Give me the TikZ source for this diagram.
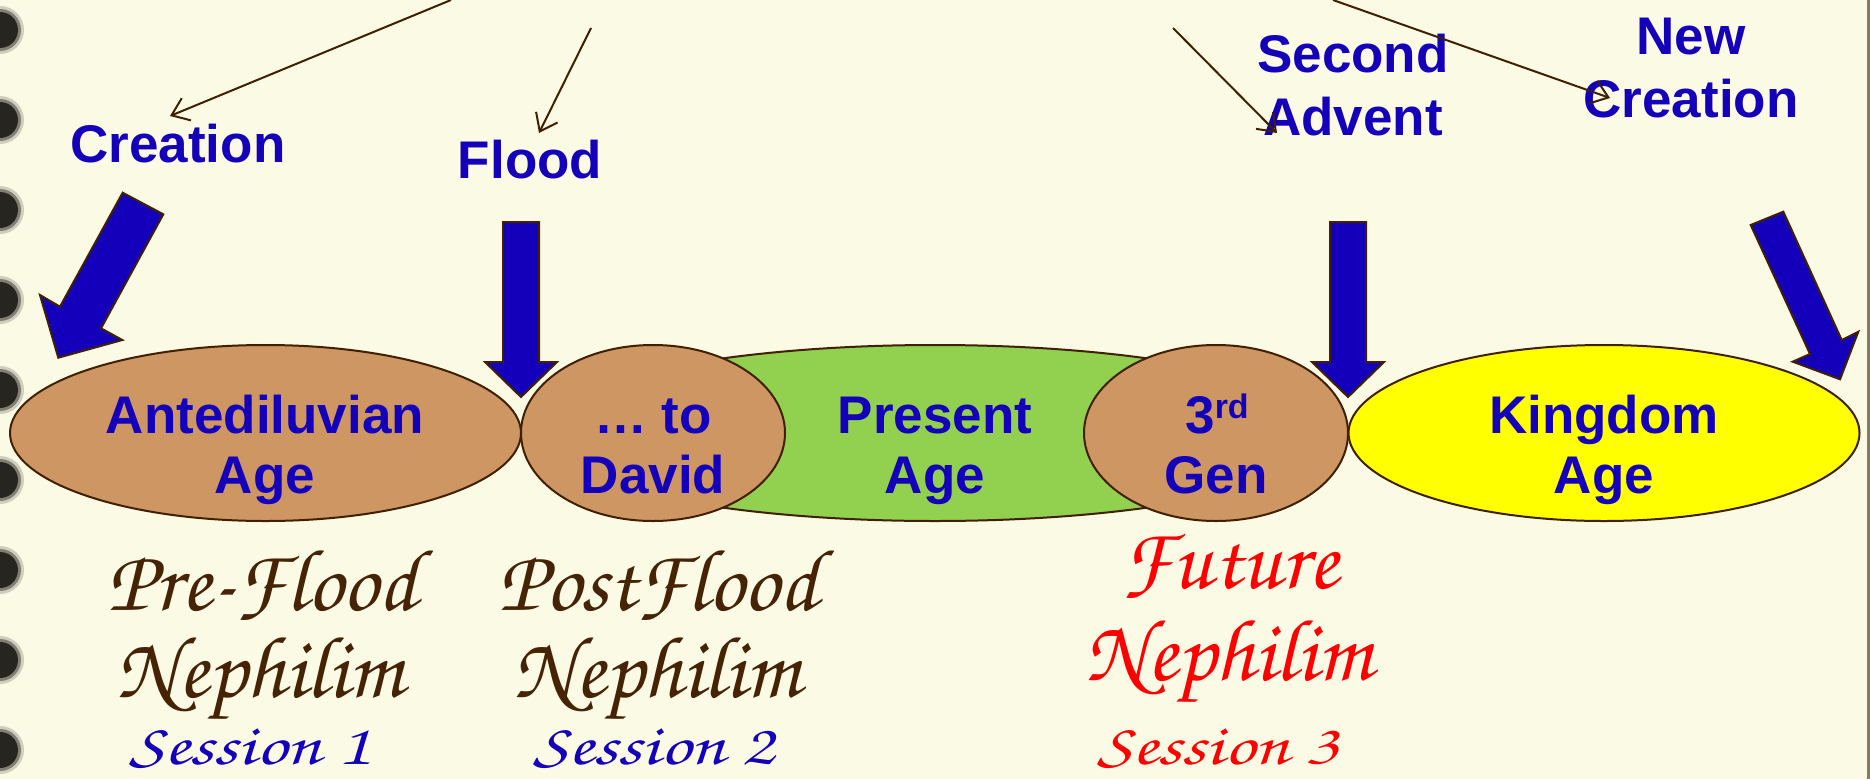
\documentclass[tikz,border=0pt]{standalone}
\usepackage[T1]{fontenc}
\usepackage{fontspec}
\newfontfamily\labelsans{Liberation Sans}
\usetikzlibrary{shapes.geometric,arrows.meta}
\definecolor{paper}{RGB}{251,250,229}
\definecolor{ink}{RGB}{20,0,186}
\definecolor{rim}{RGB}{64,32,0}
\definecolor{clay}{RGB}{205,150,98}
\definecolor{leaf}{RGB}{146,208,80}
\definecolor{sun}{RGB}{255,255,0}
\definecolor{bark}{RGB}{70,35,5}
\definecolor{alarm}{RGB}{255,0,0}
\definecolor{binding}{RGB}{140,120,95}
\definecolor{hole}{RGB}{35,33,28}
\newcommand\handfont{\usefont{T1}{pzc}{mb}{it}}
\newcommand\widehand[1]{\scalebox{1.3}[1]{#1}}
\begin{document}
\begin{tikzpicture}[x=1pt,y=-1pt,
  age/.style={ellipse, draw=rim, line width=2pt, inner sep=0pt},
  bold/.style={font=\labelsans\bfseries\fontsize{53}{63}\selectfont, text=ink, anchor=base, inner sep=0pt},
  hand/.style={font=\handfont\fontsize{88}{90}\selectfont, text=bark, anchor=base, inner sep=0pt},
  sess/.style={font=\handfont\fontsize{58}{58}\selectfont, text=ink, anchor=base, inner sep=0pt},
  pointer/.style={draw=rim, line width=2pt, -{Straight Barb[length=16pt,width=24pt]}},
  blockarrow/.style={fill=ink, draw=rim, line width=2pt, line join=miter},
]
% page
\fill[paper] (0,0) rectangle (1870,779);
\useasboundingbox (0,0) rectangle (1870,779);
\fill[binding] (1867,0) rectangle (1870,779);

% spiral binding holes
\foreach \yy in {30,120,...,750} {
  \foreach \rx/\ry/\op in {24/24/0.2, 21/21/0.45, 18/18/0.95} {
    \fill[hole, opacity=\op] (0,\yy) ellipse [x radius=\rx, y radius=\ry];
  }
}

% ages
\node[age, fill=leaf, minimum width=800pt, minimum height=176pt] (present) at (935,433) {};
\node[age, fill=clay, minimum width=511pt, minimum height=176pt] (ante) at (265.5,433) {};
\node[age, fill=clay, minimum width=264pt, minimum height=176pt] (david) at (653,433) {};
\node[age, fill=clay, minimum width=264pt, minimum height=176pt] (third) at (1216,433) {};
\node[age, fill=sun, minimum width=511pt, minimum height=176pt] (kingdom) at (1604,433) {};

\node[bold] (anteA) at (265,433) {Antediluvian};
\node[bold] (anteB) at (265,493) {Age};
\node[bold] (davidA) at (653,433) {… to};
\node[bold] (davidB) at (653,493) {David};
\node[bold] (presentA) at (935,433) {Present};
\node[bold] (presentB) at (935,493) {Age};
\node[bold] (thirdA) at (1217,433) {3\raisebox{15pt}{\fontsize{34}{34}\selectfont rd}};
\node[bold] (thirdB) at (1216,493) {Gen};
\node[bold] (kingdomA) at (1604,433) {Kingdom};
\node[bold] (kingdomB) at (1604,493) {Age};

% events
\node[bold] (creation) at (178,162) {Creation};
\node[bold] (flood) at (530,178) {Flood};
\node[bold] (adventA) at (1353,72) {Second};
\node[bold] (adventB) at (1353,135) {Advent};
\node[bold] (newA) at (1691,54) {New};
\node[bold] (newB) at (1691,117) {Creation};

% block arrows
\draw[blockarrow] (122.7,192.7) -- (60,306.7) -- (40,295) -- (58.3,357.7)
  -- (122.3,340) -- (101,328.3) -- (163.3,214.3) -- cycle;
\draw[blockarrow] (503,222) -- (503,362) -- (485,362) -- (521,397)
  -- (557,362) -- (539,362) -- (539,222) -- cycle;
\draw[blockarrow] (1330,222) -- (1330,362) -- (1312,362) -- (1348,397)
  -- (1384,362) -- (1366,362) -- (1366,222) -- cycle;
\draw[blockarrow] (1750.7,225) -- (1810,354) -- (1792.7,361.7) -- (1840,379.3)
  -- (1858.3,331.7) -- (1841.7,340) -- (1783.3,211.7) -- cycle;

% pointers from above
\coordinate (fromA) at (451,0);    \coordinate (toA) at (170,116);
\coordinate (fromB) at (591,28);   \coordinate (toB) at (539,133);
\coordinate (fromC) at (1173,28);  \coordinate (toC) at (1277,133);
\coordinate (fromD) at (1333,0);   \coordinate (toD) at (1610,98);
\draw[pointer] (fromA) -- (toA);
\draw[pointer] (fromB) -- (toB);
\draw[pointer] (fromC) -- (toC);
\draw[pointer] (fromD) -- (toD);

% nephilim
\node[hand] (preA) at (262,610) {Pre-Flood};
\node[hand] (preB) at (260,697) {Nephilim};
\node[sess] (sessA) at (250,764) {\widehand{Session 1}};
\node[hand] (postA) at (658,610) {PostFlood};
\node[hand] (postB) at (657,697) {Nephilim};
\node[sess] (sessB) at (654,764) {\widehand{Session 2}};
\node[hand, text=alarm] (futA) at (1230,588) {Future};
\node[hand, text=alarm] (futB) at (1229,680) {Nephilim};
\node[sess, text=alarm] (sessC) at (1218,764) {\widehand{Session 3}};
\end{tikzpicture}
\end{document}
